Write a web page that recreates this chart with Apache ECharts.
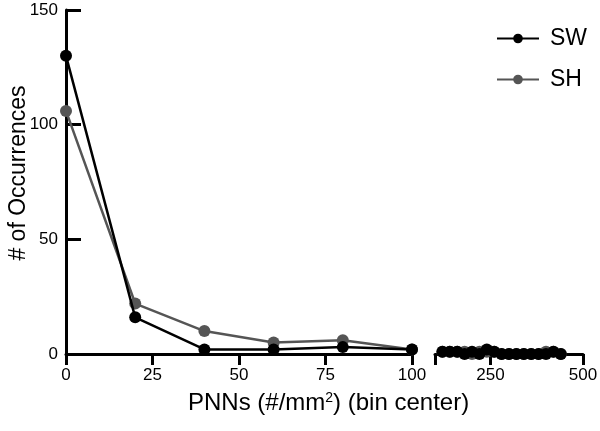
<!DOCTYPE html>
<html>
<head>
<meta charset="utf-8">
<script src="https://cdn.jsdelivr.net/npm/echarts@6/dist/echarts.min.js"></script>
<style>
  html, body { margin: 0; padding: 0; background: #fff; }
  #chart { width: 600px; height: 431px; }
</style>
</head>
<body>
<div id="chart"></div>
<script>
// bin centers, left segment (0-100) and right segment (100-500)
var binsLow = [0, 20, 40, 60, 80, 100];
var binsHigh = [120, 140, 160, 180, 200, 220, 240, 260, 280, 300, 320, 340, 360, 380, 400, 420, 440];
// # of occurrences
var swLow = [130, 16, 2, 2, 3, 2];
var shLow = [106, 22, 10, 5, 6, 2];
var swHigh = [1, 1, 1, 0, 1, 0, 2, 1, 0, 0, 0, 0, 0, 0, 0, 1, 0];
var shHigh = [1, 1, 1, 1, 0, 1, 1, 1, 0, 0, 0, 0, 0, 0, 1, 1, 0];
var xTicksHigh = [100, 250, 500];
var xLabelsHigh = [250, 500];

function pairs(xs, ys) {
  return xs.map(function (x, i) { return [x, ys[i]]; });
}

var myChart = echarts.init(document.getElementById("chart"));
var font = "Liberation Sans, Arial, sans-serif";
var axisLine = { show: true, lineStyle: { color: "#000", width: 3 } };

function series(name, color, xi, data, z) {
  return {
    name: name,
    type: "line",
    xAxisIndex: xi,
    yAxisIndex: xi,
    data: data,
    symbol: "circle",
    symbolSize: 12,
    clip: false,
    z: z,
    lineStyle: { color: color, width: 2.5 },
    itemStyle: { color: color },
    emphasis: { disabled: true }
  };
}

var option = {
  animation: false,
  legend: {
    orient: "vertical",
    left: 491,
    top: 22,
    itemWidth: 42,
    itemHeight: 12,
    itemGap: 18,
    textStyle: { fontFamily: font, fontSize: 23, color: "#000", padding: [0, 0, 0, 6] },
    data: ["SW", "SH"]
  },
  grid: [
    { left: 66, top: 10, width: 346, height: 344, outerBoundsMode: "none" },
    { left: 435, top: 10, width: 148, height: 344, outerBoundsMode: "none" }
  ],
  xAxis: [
    {
      gridIndex: 0, type: "value", min: 0, max: 100, interval: 25,
      axisLine: axisLine,
      axisTick: { show: true, length: 11, lineStyle: { width: 3, color: "#000" } },
      axisLabel: { margin: 13, fontFamily: font, fontSize: 17, color: "#000" },
      splitLine: { show: false }
    },
    {
      gridIndex: 1, type: "value", min: 100, max: 500,
      axisLine: axisLine,
      axisTick: { show: true, length: 11, customValues: xTicksHigh, lineStyle: { width: 3, color: "#000" } },
      axisLabel: { margin: 13, fontFamily: font, fontSize: 17, color: "#000", customValues: xLabelsHigh },
      splitLine: { show: false }
    }
  ],
  yAxis: [
    {
      gridIndex: 0, type: "value", min: 0, max: 150, interval: 50,
      name: "# of Occurrences", nameLocation: "middle", nameGap: 36, nameMoveOverlap: false,
      nameTextStyle: { fontFamily: font, fontSize: 23, color: "#000", padding: [0, 0, 0, 18] },
      axisLine: axisLine,
      axisTick: { show: true, inside: true, length: 15, lineStyle: { width: 3, color: "#000" } },
      axisLabel: { margin: 8, fontFamily: font, fontSize: 17, color: "#000" },
      splitLine: { show: false }
    },
    {
      gridIndex: 1, type: "value", min: 0, max: 150, show: false
    }
  ],
  graphic: [
    {
      type: "text", left: 188, top: 391,
      style: {
        text: "{t|PNNs (#/mm}{s|2}{t|) (bin center)}",
        rich: {
          t: { font: "24px " + font, fill: "#000", verticalAlign: "bottom" },
          s: { font: "14px " + font, fill: "#000", verticalAlign: "top" }
        }
      }
    }
  ],
  series: [
    series("SH", "#555555", 0, pairs(binsLow, shLow), 2),
    series("SW", "#000000", 0, pairs(binsLow, swLow), 3),
    series("SH", "#555555", 1, pairs(binsHigh, shHigh), 2),
    series("SW", "#000000", 1, pairs(binsHigh, swHigh), 3)
  ]
};
myChart.setOption(option);
</script>
</body>
</html>
